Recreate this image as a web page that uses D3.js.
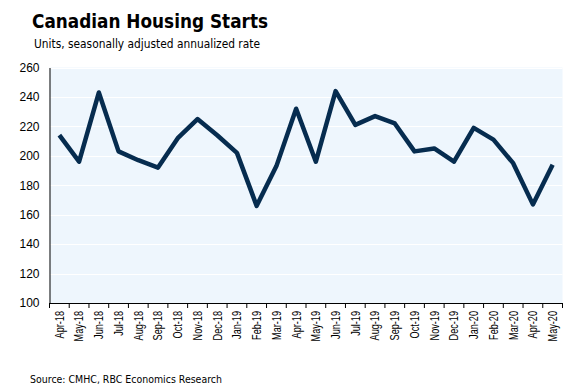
<!DOCTYPE html>
<html><head><meta charset="utf-8">
<script src="https://cdn.jsdelivr.net/npm/d3@7"></script>
<style>body{margin:0;background:#fff}svg{display:block}</style>
</head><body>
<svg id="c" width="575" height="392"></svg>
<script>
const months = ["Apr-18","May-18","Jun-18","Jul-18","Aug-18","Sep-18","Oct-18","Nov-18","Dec-18","Jan-19","Feb-19","Mar-19","Apr-19","May-19","Jun-19","Jul-19","Aug-19","Sep-19","Oct-19","Nov-19","Dec-19","Jan-20","Feb-20","Mar-20","Apr-20","May-20"];
const starts = [214,196,243,203,197,192,212,225,214,202,166,193,232,196,244,221,227,222,203,205,196,219,211,195,167,194];
const yTicks = [100,120,140,160,180,200,220,240,260];

const svg = d3.select("#c");
const font = "'DejaVu Sans', Verdana, sans-serif";
const afont = "'Liberation Sans', Arial, sans-serif";
const m = {l:49.5, r:562.5, t:67.5, b:303};
const x = d3.scaleBand().domain(months).range([m.l, m.r]);
const y = d3.scaleLinear().domain([100,260]).range([m.b, m.t]);

svg.append("rect").attr("x", m.l).attr("y", m.t).attr("width", m.r-m.l).attr("height", m.b-m.t).attr("fill", "#eef6fd");

svg.append("g").selectAll("line").data(yTicks.slice(1)).join("line")
  .attr("x1", m.l).attr("x2", m.r).attr("y1", d=>Math.round(y(d))+0.5).attr("y2", d=>Math.round(y(d))+0.5)
  .attr("stroke", "#fff").attr("stroke-width", 1);

// y axis
const ya = svg.append("g").attr("transform", `translate(${m.l},0)`)
  .call(d3.axisLeft(y).tickValues(yTicks).tickSize(0).tickPadding(10));
ya.select(".domain").attr("stroke", "#000");
ya.selectAll("text").attr("font-family", afont).attr("font-size", 12).attr("fill", "#000");

// x axis
const xa = svg.append("g").attr("transform", `translate(0,${m.b})`)
  .call(d3.axisBottom(x).tickSize(0).tickPadding(0));
xa.select(".domain").attr("stroke", "#000").attr("d", `M${m.l},0.5H${m.r}`);
xa.selectAll(".tick line").remove();
const bounds = months.map((d,i)=>m.l + i*x.step()).concat([m.r]);
xa.append("g").selectAll("line").data(bounds).join("line")
  .attr("x1", d=>d).attr("x2", d=>d).attr("y1", 0).attr("y2", 5).attr("stroke", "#000");
xa.selectAll(".tick text")
  .attr("font-family", afont).attr("font-size", 12.5).attr("fill", "#000")
  .attr("transform", "rotate(-90)").attr("text-anchor", "end")
  .attr("x", -8).attr("y", 0).attr("dy", "0.35em")
  .each(function(){
    const L = this.getComputedTextLength();
    d3.select(this).attr("textLength", L*0.73).attr("lengthAdjust", "spacingAndGlyphs");
  });

// line
svg.append("path").datum(starts)
  .attr("fill", "none").attr("stroke", "#062c4f").attr("stroke-width", 4.5)
  .attr("stroke-linejoin", "round").attr("stroke-linecap", "butt")
  .attr("d", d3.line().x((d,i)=>x(months[i]) + x.bandwidth()/2).y(d=>y(d)));

svg.append("text").attr("x", 32).attr("y", 28).attr("font-family", font).attr("font-weight", "bold")
  .attr("font-size", 20).attr("fill", "#000")
  .attr("textLength", 236).attr("lengthAdjust", "spacingAndGlyphs").text("Canadian Housing Starts");
svg.append("text").attr("x", 34).attr("y", 48).attr("font-family", font)
  .attr("font-size", 12.5).attr("fill", "#000")
  .attr("textLength", 226).attr("lengthAdjust", "spacingAndGlyphs").text("Units, seasonally adjusted annualized rate");
svg.append("text").attr("x", 30).attr("y", 383).attr("font-family", font)
  .attr("font-size", 11).attr("fill", "#000")
  .attr("textLength", 192).attr("lengthAdjust", "spacingAndGlyphs").text("Source: CMHC, RBC Economics Research");
</script>
</body></html>
